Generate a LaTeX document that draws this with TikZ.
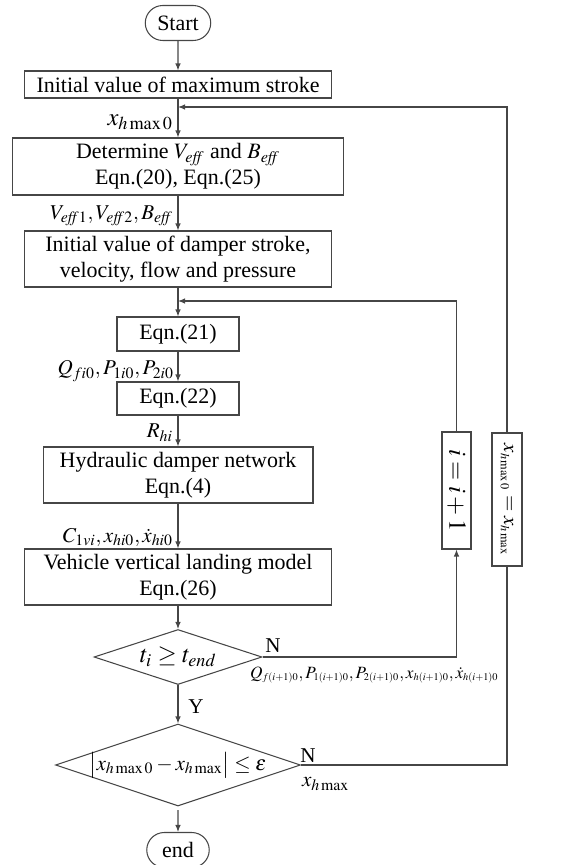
\documentclass[tikz,border=0pt]{standalone}
\usepackage{amsmath,amssymb}
\usepackage{mathptmx}
\usepackage{fontspec}
\setmainfont{Liberation Serif}
\usepackage{tikz}
\usetikzlibrary{arrows.meta}
\usetikzlibrary{shapes.geometric,shapes.misc}
\usepackage{xcolor}
\definecolor{ColLine}{RGB}{70,70,70}
\tikzstyle{BoxFlow}=[rectangle,draw=ColLine,line width=0.6pt,inner sep=1pt,align=center,
font=\fontsize{12.5}{15}\selectfont]
\tikzstyle{TermFlow}=[rounded rectangle,draw=ColLine,line width=0.6pt,inner sep=1pt,
minimum width=1.38cm,minimum height=0.7cm,font=\fontsize{12.5}{15}\selectfont]
\tikzstyle{TestFlow}=[diamond,draw=ColLine,line width=0.6pt,inner sep=0pt]
\tikzstyle{EdgeFlow}=[ColLine,line width=0.6pt,-{Latex[length=1.4mm,width=1.1mm]}]
\tikzstyle{LineFlow}=[ColLine,line width=0.6pt]
\tikzstyle{VarLabel}=[inner sep=1pt,font=\fontsize{12}{14}\selectfont]
\newcommand{\tinysub}[1]{_{\scriptscriptstyle #1}}

\begin{document}
\begin{tikzpicture}[x=0.02cm,y=-0.02cm]
        \useasboundingbox(0,0)rectangle(565,865);
        % main column
        \node[TermFlow](start)at(178,23){Start};
        \node[BoxFlow,minimum width=6.14cm,minimum height=0.54cm](init)at(178,84.5){Initial value of maximum stroke};
        \node[BoxFlow,minimum width=6.64cm,minimum height=1.14cm](det)at(178,166.5){Determine $V_{\mathit{eff}}$ and $B_{\mathit{eff}}$\\Eqn.(20), Eqn.(25)};
        \node[BoxFlow,minimum width=6.14cm,minimum height=1.12cm](stroke)at(178,259){Initial value of damper stroke,\\velocity, flow and pressure};
        \node[BoxFlow,minimum width=2.44cm,minimum height=0.68cm](eqa)at(178,334){Eqn.(21)};
        \node[BoxFlow,minimum width=2.44cm,minimum height=0.66cm](eqb)at(178,398.5){Eqn.(22)};
        \node[BoxFlow,minimum width=5.4cm,minimum height=1.12cm](net)at(178,475){Hydraulic damper network\\Eqn.(4)};
        \node[BoxFlow,minimum width=6.14cm,minimum height=1.12cm](model)at(178,577){Vehicle vertical landing model\\Eqn.(26)};
        \node[TestFlow,minimum width=3.36cm,minimum height=1.1cm,
            label={[font=\fontsize{14}{14}\selectfont]center:$t_i\geq t_{\mathit{end}}$}](tend)at(178,657){};
        \node[TestFlow,minimum width=4.9cm,minimum height=1.64cm,
            label={[font=\fontsize{12}{14}\selectfont]center:$\bigl|x_{h\max 0}-x_{h\max}\bigr|\leq\varepsilon$}](conv)at(178,765){};
        \node[TermFlow,minimum width=1.32cm](stop)at(178,850){end};
        % side boxes
        \node[BoxFlow,rotate=-90,minimum width=2.34cm,minimum height=0.58cm](incr)at(456.5,490.5){\fontsize{14}{14}\selectfont$i=i+1$};
        \node[BoxFlow,rotate=-90,minimum width=2.66cm,minimum height=0.6cm](upd)at(507,499.5){\fontsize{12}{12}\selectfont$x\tinysub{h\max 0}=x\tinysub{h\max}$};
        \coordinate(outer)at(178,107);
        \coordinate(inner)at(178,301);
        % connectors
        \draw[EdgeFlow](start)--(init);
        \draw[EdgeFlow](init)--(det);
        \draw[EdgeFlow](det)--(stroke);
        \draw[EdgeFlow](stroke)--(eqa);
        \draw[EdgeFlow](eqa)--(eqb);
        \draw[EdgeFlow](eqb)--(net);
        \draw[EdgeFlow](net)--(model);
        \draw[EdgeFlow](model)--(tend);
        \draw[EdgeFlow](tend)--(conv);
        \draw[EdgeFlow,shorten <=2pt](conv)--(stop);
        \draw[EdgeFlow](tend.east)-|(incr.east);
        \draw[EdgeFlow](incr.west)|-(inner);
        \draw[LineFlow](conv.east)-|(upd.east);
        \draw[EdgeFlow](upd.west)|-(outer);
        % labels
        \node[VarLabel,anchor=east,font=\fontsize{14}{14}\selectfont](lxa)at(175,122){$x_{h\max 0}$};
        \node[VarLabel,anchor=east](lveff)at(175,216){$V_{\mathit{eff}1},V_{\mathit{eff}2},B_{\mathit{eff}}$};
        \node[VarLabel,anchor=east](lq)at(176,371){$Q_{fi0},P_{1i0},P_{2i0}$};
        \node[VarLabel,anchor=east](lr)at(175,433){$R_{hi}$};
        \node[VarLabel,anchor=east](lc)at(175,537){$C_{1vi},x_{hi0},\dot{x}_{hi0}$};
        \node[VarLabel](ln)at(273,646){N};
        \node[VarLabel,anchor=west,font=\fontsize{9.8}{11}\selectfont](lnext)at(248,675){$Q\tinysub{f(i+1)0},P\tinysub{1(i+1)0},P\tinysub{2(i+1)0},x\tinysub{h(i+1)0},\dot{x}\tinysub{h(i+1)0}$};
        \node[VarLabel](ly)at(196,707){Y};
        \node[VarLabel](lnb)at(308,756){N};
        \node[VarLabel,anchor=west](lxm)at(300,784){$x_{h\max}$};
    \end{tikzpicture}
\end{document}
